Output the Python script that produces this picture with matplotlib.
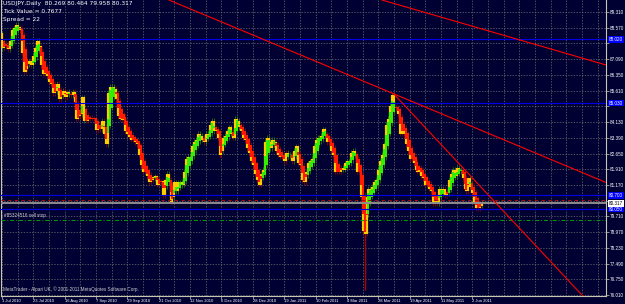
import numpy as np
import matplotlib.pyplot as plt

# USDJPY daily closes, 1 Jul 2010 .. 9 Jun 2011 (one row per week)
closes = [
    87.60, 87.75,
    87.70, 87.55, 87.95, 88.45, 88.55,
    88.70, 88.60, 88.45, 87.40, 86.50,
    86.65, 86.85, 87.00, 86.80, 87.25,
    87.60, 87.95, 87.70, 86.80, 86.40,
    86.45, 86.30, 86.00, 85.95, 85.50,
    85.60, 85.95, 85.20, 85.40, 85.60,
    85.30, 85.55, 85.45, 85.40, 85.55,
    85.10, 84.30, 84.40, 84.50, 85.30,
    84.20, 84.20, 84.30, 84.30, 84.30,
    84.30, 83.75, 83.85, 83.80, 84.20,
    83.60, 83.10, 85.50, 85.80, 85.80,
    85.70, 85.20, 84.40, 84.30, 84.25,
    84.30, 83.70, 83.60, 83.45, 83.30,
    83.30, 83.20, 83.10, 82.60, 82.10,
    81.80, 81.80, 81.60, 81.30, 81.40,
    81.55, 81.60, 81.20, 81.30, 81.35,
    80.70, 81.40, 81.70, 81.30, 80.40,
    80.60, 81.30, 80.90, 81.30, 81.30,
    81.20, 81.80, 82.40, 82.50, 82.50,
    83.00, 83.20, 83.30, 83.60, 83.50,
    83.30, 83.20, 83.60, 83.50, 84.00,
    84.20, 83.70, 83.80, 83.40, 82.60,
    82.80, 83.40, 83.50, 83.70, 83.90,
    83.60, 83.40, 84.30, 84.20, 83.90,
    83.70, 83.40, 83.30, 82.90, 82.70,
    82.30, 82.10, 81.70, 81.40, 81.20,
    81.70, 81.90, 83.20, 83.40, 83.20,
    82.90, 83.30, 83.20, 82.80, 82.60,
    82.50, 82.50, 82.30, 82.70, 82.60,
    82.60, 82.30, 82.80, 83.00, 82.20,
    82.10, 81.40, 81.30, 81.80, 82.20,
    82.30, 82.40, 83.00, 83.30, 83.40,
    83.40, 83.50, 83.80, 83.60, 83.20,
    83.20, 82.80, 82.60, 81.80, 81.80,
    81.80, 82.00, 81.90, 82.20, 82.30,
    82.30, 82.70, 82.80, 82.60, 81.80,
    81.80, 80.60, 79.00, 78.90, 80.60,
    81.00, 80.90, 81.10, 81.30, 81.40,
    81.90, 82.30, 82.60, 83.10, 84.00,
    84.30, 84.90, 85.40, 84.80, 84.80,
    84.50, 83.60, 83.80, 83.60, 83.10,
    82.80, 82.40, 82.40, 82.20, 81.90,
    81.80, 82.00, 81.60, 81.50, 81.20,
    81.20, 81.00, 80.90, 80.30, 80.60,
    80.30, 81.00, 80.90, 81.00, 80.70,
    80.80, 81.40, 81.70, 81.90, 81.60,
    82.00, 81.90, 81.90, 81.50, 81.00,
    80.90, 81.50, 81.10, 80.80, 80.40,
    80.10, 80.10, 80.20, 80.32,
]
first_open = 88.30

# long wicks visible on the chart
spike_bars = [185]
spike_lows = [76.25]

date_labels = ['1 Jul 2010', '23 Jul 2010', '16 Aug 2010', '7 Sep 2010', '29 Sep 2010',
               '21 Oct 2010', '12 Nov 2010', '6 Dec 2010', '28 Dec 2010', '19 Jan 2011',
               '10 Feb 2011', '4 Mar 2011', '28 Mar 2011', '19 Apr 2011', '11 May 2011',
               '2 Jun 2011']
date_bars = [0, 16, 32, 48, 64, 80, 96, 112, 128, 144, 160, 176, 192, 208, 224, 240]

price_ticks = [76.010, 76.750, 77.490, 78.230, 78.970, 79.710, 80.430, 81.170, 81.910,
               82.650, 83.390, 84.130, 84.870, 85.610, 86.350, 87.090, 87.830, 88.570, 89.310]
# scale labels hidden behind the price boxes
hidden_ticks = [80.430, 84.870, 87.830]

blue_levels = [88.020, 85.030, 80.700, 80.050]
bid = 80.317
red_level = 80.47
sell_stop = 79.535

# trend lines: (bar, price) pairs
trend_lines = [
    [(193.9, 89.874), (308.2, 86.82)],
    [(85.2, 89.874), (308.2, 81.30)],
    [(199.5, 85.50), (296.4, 75.964)],
]

# ---- figure ----
bg = '#000033'
fig = plt.figure(figsize=(6.25, 3.04), dpi=100, facecolor=bg)
ax = fig.add_axes((1 / 625, 8 / 304, 605 / 625, 296 / 304))
ax.set_facecolor(bg)
ax.set_xlim(-0.51, 308.2)
ax.set_ylim(75.964, 89.874)

font = ['Liberation Sans', 'DejaVu Sans']
fs = 3.3

# grid
for p in price_ticks:
    ax.axhline(p, color='#707070', lw=0.5, ls=(0, (2, 2)), zorder=1)
for b in range(0, 309, 8):
    ax.axvline(b, color='#707070', lw=0.5, ls=(0, (2, 2)), zorder=1)

# candles
c = np.array(closes)
o = np.concatenate([[first_open], c[:-1]])
ha_c = (o + c) / 2
ha_o = np.empty_like(c)
ha_o[0] = (o[0] + c[0]) / 2
for i in range(1, len(c)):
    ha_o[i] = (ha_o[i - 1] + ha_c[i - 1]) / 2
bars = np.arange(len(c))
up = ha_c >= ha_o

lo = np.minimum(np.minimum(o, c), np.minimum(ha_o, ha_c))
hi = np.maximum(np.maximum(o, c), np.maximum(ha_o, ha_c))
ax.vlines(bars[up], lo[up] - 0.12, hi[up] + 0.12, color='#2e8b00', lw=0.5, zorder=2)
ax.vlines(bars[~up], lo[~up] - 0.12, hi[~up] + 0.12, color='#a00000', lw=0.5, zorder=2)
for b, l in zip(spike_bars, spike_lows):
    ax.vlines(b, l, lo[b], color='#b00000', lw=1.0, zorder=2)

ax.vlines(bars, np.minimum(o, c), np.maximum(o, c), color='#ffcc00', lw=1.6, zorder=3)
ax.vlines(bars[up], np.minimum(ha_o, ha_c)[up], np.maximum(ha_o, ha_c)[up],
          color='#33ee00', lw=1.5, zorder=4)
ax.vlines(bars[~up], np.minimum(ha_o, ha_c)[~up], np.maximum(ha_o, ha_c)[~up],
          color='#ff1a00', lw=1.5, zorder=4)

# level lines
for p in blue_levels:
    ax.axhline(p, color='#0000e6', lw=0.8, zorder=5)
ax.axhline(red_level, color='#a01010', lw=0.8, ls=(0, (3, 3)), zorder=5)
ax.axhline(bid, color='#8c8c8c', lw=1.4, zorder=5)
ax.axhline(sell_stop, color='#00a000', lw=0.7, ls=(0, (4, 2, 1, 2)), zorder=5)
ax.text(1, sell_stop + 0.08, '#85324516 sell stop', color='#d0d0d0', fontsize=fs,
        family=font, va='bottom', ha='left', zorder=6)

for (x0, y0), (x1, y1) in trend_lines:
    ax.plot([x0, x1], [y0, y1], color='#ff0000', lw=0.8, zorder=6)

# axes
ax.spines['top'].set_visible(False)
for s in ['right', 'bottom', 'left']:
    ax.spines[s].set_color('#c8c8b0')
    ax.spines[s].set_linewidth(0.8)

ax.yaxis.tick_right()
ax.set_yticks(price_ticks)
ax.set_yticklabels(['' if p in hidden_ticks else f'{p:.3f}' for p in price_ticks],
                   family=font, fontsize=fs, color='white')
ax.tick_params(axis='y', length=2, width=0.5, color='#c8c8b0', pad=1.0)

ax.set_xticks(date_bars)
ax.set_xticklabels(date_labels, family=font, fontsize=3.0, color='white', ha='left')
ax.tick_params(axis='x', length=2, width=0.5, color='#c8c8b0', pad=0.3)

# price boxes on the right scale
trans = ax.get_yaxis_transform()
for p in blue_levels:
    ax.text(1.005, p, f'{p:.3f}', transform=trans, fontsize=fs, family=font, color='white',
            va='center', ha='left', clip_on=False, zorder=10,
            bbox=dict(boxstyle='square,pad=0.2', fc='#0000ff', ec='none'))
ax.text(1.005, bid, f'{bid:.3f}', transform=trans, fontsize=fs, family=font, color='black',
        va='center', ha='left', clip_on=False, zorder=10,
        bbox=dict(boxstyle='square,pad=0.2', fc='white', ec='none'))

# header and footer text
hfont = ['DejaVu Sans']
ax.text(0.004, 0.995, 'USDJPY,Daily  80.269 80.464 79.958 80.317', transform=ax.transAxes,
        color='white', fontsize=4.2, family=hfont, va='top', ha='left', zorder=10)
ax.text(0.004, 0.968, 'Tick Value = 0.7677', transform=ax.transAxes,
        color='white', fontsize=4.2, family=hfont, va='top', ha='left', zorder=10)
ax.text(0.004, 0.941, 'Spread = 22', transform=ax.transAxes,
        color='white', fontsize=4.2, family=hfont, va='top', ha='left', zorder=10)
ax.text(0.004, 0.012, 'MetaTrader - Alpari UK, \u00a9 2001-2011 MetaQuotes Software Corp.',
        transform=ax.transAxes, color='#d0d0d0', fontsize=fs, family=font,
        va='bottom', ha='left', zorder=10)

fig.savefig('out.png', dpi=100, facecolor=bg)
